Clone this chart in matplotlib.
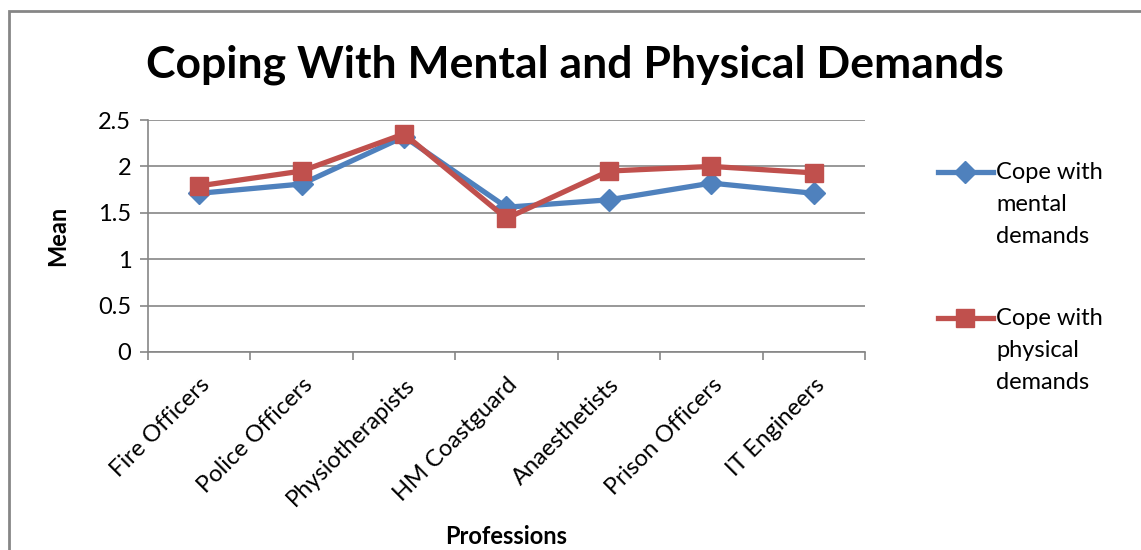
import matplotlib
matplotlib.use('Agg')
from matplotlib import pyplot as plt
from matplotlib.patches import Rectangle
from matplotlib.lines import Line2D

professions = ['Fire Officers', 'Police Officers', 'Physiotherapists', 'HM Coastguard',
               'Anaesthetists', 'Prison Officers', 'IT Engineers']
mental = [1.71, 1.81, 2.32, 1.56, 1.64, 1.82, 1.71]
physical = [1.79, 1.95, 2.35, 1.44, 1.95, 2.00, 1.93]
y_ticks = [0, 0.5, 1, 1.5, 2, 2.5]
y_tick_labels = ['0', '0.5', '1', '1.5', '2', '2.5']
series_labels = ['Cope with\nmental\ndemands', 'Cope with\nphysical\ndemands']

plt.rcParams['font.family'] = ['Lato', 'DejaVu Sans']

W, H = 1141, 550
fig = plt.figure(figsize=(W / 100, H / 100), dpi=100)

# outer chart border (Excel-style frame)
fig.patches.append(Rectangle((9 / W, -0.1), 1.2, 1.1 - 11 / H,
                             transform=fig.transFigure, fill=False,
                             edgecolor='#868686', linewidth=2))

ax = fig.add_axes([148 / W, 1 - 352 / H, (865 - 148) / W, (352 - 120) / H])

blue, red = '#4F81BD', '#C0504D'
x = list(range(len(professions)))
ax.plot(x, mental, color=blue, linewidth=3.8, marker='D', markersize=11, zorder=3)
ax.plot(x, physical, color=red, linewidth=3.8, marker='s', markersize=13, zorder=4)

ax.set_xlim(-0.5, len(professions) - 0.5)
ax.set_ylim(0, 2.5)
ax.set_yticks(y_ticks)
ax.set_yticklabels(y_tick_labels, fontsize=17)

# ticks between categories, labels at category centres
ax.set_xticks([i - 0.5 for i in range(len(professions) + 1)])
ax.set_xticklabels([])
ax.set_xticks(x, minor=True)
ax.set_xticklabels(professions, minor=True, rotation=45, ha='right',
                   rotation_mode='anchor', fontsize=17)
ax.tick_params(axis='x', which='minor', length=0, pad=16)
ax.tick_params(axis='x', which='major', length=6, color='#868686', width=1.2)
ax.tick_params(axis='y', length=6, color='#868686', width=1.2, pad=6)

ax.grid(axis='y', color='#868686', linewidth=1.2)
ax.set_axisbelow(True)
for side in ['top', 'right']:
    ax.spines[side].set_visible(False)
for side in ['left', 'bottom']:
    ax.spines[side].set_color('#868686')
    ax.spines[side].set_linewidth(1.2)

ax.set_ylabel('Mean', fontsize=17, fontweight='bold', labelpad=21)
ax.set_xlabel('Professions', fontsize=17, fontweight='bold', labelpad=11)

fig.text(0.504, 1 - 65 / H, 'Coping With Mental and Physical Demands',
         fontsize=32, fontweight='bold', ha='center', va='center')

# legend drawn by hand so the key sits on the first text line (as in Excel)
for (yl, col, mk, ms, lab) in [(172, blue, 'D', 11, series_labels[0]),
                               (318, red, 's', 13, series_labels[1])]:
    fig.add_artist(Line2D([938 / W, 965 / W, 993 / W], [1 - yl / H] * 3,
                          color=col, linewidth=3.8, marker=mk, markersize=ms,
                          markevery=[1], transform=fig.transFigure))
    fig.text(996 / W, 1 - (yl - 10) / H, lab, fontsize=17, ha='left', va='top',
             linespacing=1.66)

fig.savefig('out.png', dpi=100)
